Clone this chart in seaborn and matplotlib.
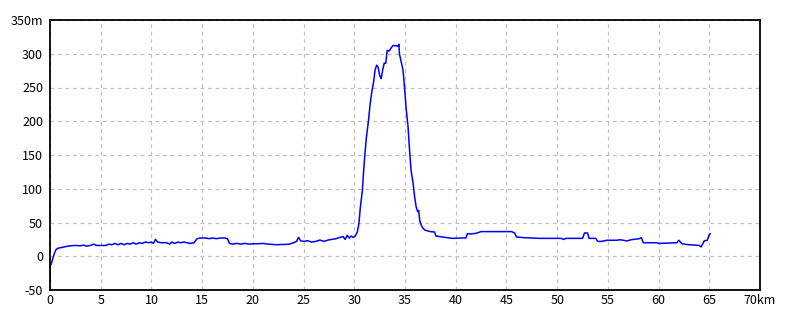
import matplotlib
matplotlib.use("Agg")
import matplotlib.pyplot as plt
import seaborn as sns
import pandas as pd

distance_km = [
    0.0, 0.0, 0.15, 0.3, 0.45, 0.6, 0.8, 1.0, 1.3, 1.6, 2.0, 2.5, 3.0, 3.3, 3.6, 4.0, 4.3, 4.6,
    5.0, 5.5, 5.8, 6.1, 6.4, 6.7, 7.0, 7.3, 7.6, 7.9, 8.2, 8.5, 8.8, 9.1, 9.4, 9.7,
    10.0, 10.2, 10.4, 10.6, 11.0, 11.5, 11.8, 12.0, 12.3, 12.6, 12.9, 13.2, 13.5, 13.8, 14.2, 14.5, 14.8,
    15.0, 15.4, 15.7, 16.0, 16.4, 16.8, 17.2, 17.5, 17.7, 18.0, 18.4, 18.8, 19.2, 19.6,
    20.0, 20.5, 21.0, 21.5, 22.0, 22.4, 22.8, 23.2, 23.6, 24.0, 24.3, 24.5, 24.7,
    25.0, 25.4, 25.8, 26.2, 26.6, 27.0, 27.4, 27.8, 28.2, 28.6, 28.9, 29.1, 29.3, 29.5, 29.7, 29.9,
    30.1, 30.3, 30.45, 30.6, 30.8, 30.9, 31.05, 31.2, 31.4, 31.55, 31.7, 31.9, 32.05, 32.2, 32.35,
    32.5, 32.65, 32.8, 32.95, 33.1, 33.25, 33.45, 33.6, 33.8, 34.1, 34.3, 34.4, 34.45, 34.6, 34.8,
    34.95, 35.1, 35.3, 35.45, 35.6, 35.8, 35.95, 36.1, 36.25, 36.35, 36.45, 36.6, 36.8,
    37.0, 37.5, 37.9, 38.05, 38.7, 39.4, 39.7, 40.5, 41.0, 41.15, 41.5, 42.0, 42.5, 43.5, 44.5,
    45.5, 45.8, 46.0, 46.8, 47.6, 48.3, 49.5, 50.4, 50.6, 50.9, 52.5, 52.7, 53.0, 53.15, 53.8,
    54.0, 54.4, 54.9, 55.9, 56.2, 56.9, 57.3, 58.1, 58.3, 58.5, 59.8, 60.0, 61.8, 62.0, 62.3,
    62.8, 64.0, 64.2, 64.5, 64.8, 65.0, 65.1,
]
elevation_m = [
    -38, -15, -10, -2, 5, 10, 12, 12.5, 13.5, 14.5, 15.5, 16, 15.5, 16.5, 15, 16, 18, 16,
    16, 16, 18, 17, 19, 17, 19, 17, 19, 18, 20, 18, 20, 19, 21, 20,
    21, 19, 25, 21, 20, 20, 18, 21, 19, 21, 20, 21, 20, 19, 20, 26, 27,
    27, 27, 26, 27, 26, 27, 27, 26, 19, 18, 19, 18, 19, 18,
    18.5, 18.5, 19, 18, 17.5, 17, 17.5, 17.5, 18, 20, 22, 28, 23,
    22, 23, 21, 22, 24, 22, 24, 25, 26, 28, 29, 25, 31, 27, 30, 28,
    30, 36, 48, 73, 98, 122, 152, 177, 201, 224, 241, 258, 276, 283, 280,
    268, 263, 276, 286, 286, 305, 304, 308, 312, 312, 311, 314, 300, 290, 276,
    251, 221, 192, 157, 127, 108, 88, 73, 66, 68, 53, 46, 41,
    38.5, 36.5, 36, 30, 28.5, 27, 26.5, 27, 27, 33.5, 33, 34, 36.5, 36.5, 36.5,
    36.5, 34.5, 28.5, 27.5, 27, 26.5, 26.5, 26.5, 25, 26.5, 26.5, 34.5, 34.5, 26.5, 26.5,
    22, 22, 23.7, 23.7, 24.5, 22.7, 24.5, 26, 27.6, 20, 20, 19, 20, 23.7, 18.6,
    17.3, 16, 13.8, 22.7, 23.7, 32, 33.6,
]

x_ticks = [0, 5, 10, 15, 20, 25, 30, 35, 40, 45, 50, 55, 60, 65, 70]
x_tick_labels = ["0", "5", "10", "15", "20", "25", "30", "35", "40", "45", "50", "55", "60", "65", "70km"]
y_ticks = [-50, 0, 50, 100, 150, 200, 250, 300, 350]
y_tick_labels = ["-50", "0", "50", "100", "150", "200", "250", "300", "350m"]

df = pd.DataFrame({"km": distance_km, "m": elevation_m})

sns.set_style("white")
plt.rcParams["font.family"] = ["Noto Sans CJK JP", "DejaVu Sans"]

fig = plt.figure(figsize=(8, 3.2), dpi=100)
ax = fig.add_axes([50 / 800, 30 / 320, 710 / 800, 270 / 320])

sns.lineplot(data=df, x="km", y="m", ax=ax, color="#0000ff", linewidth=1.1,
             estimator=None, sort=False)

ax.set_xlim(0, 70)
ax.set_ylim(-50, 350)
ax.set_xticks(x_ticks)
ax.set_xticklabels(x_tick_labels)
ax.set_yticks(y_ticks)
ax.set_yticklabels(y_tick_labels)
ax.set_xlabel("")
ax.set_ylabel("")
ax.tick_params(axis="both", length=0, labelsize=9, colors="black")
ax.tick_params(axis="y", pad=5)
ax.tick_params(axis="x", pad=3)
ax.grid(True, color="#c0c0c0", linestyle=(0, (3, 3)), linewidth=0.9)
for s in ax.spines.values():
    s.set_visible(True)
    s.set_color("black")
    s.set_linewidth(1.3)

fig.savefig("out.png", dpi=100, facecolor="white")
